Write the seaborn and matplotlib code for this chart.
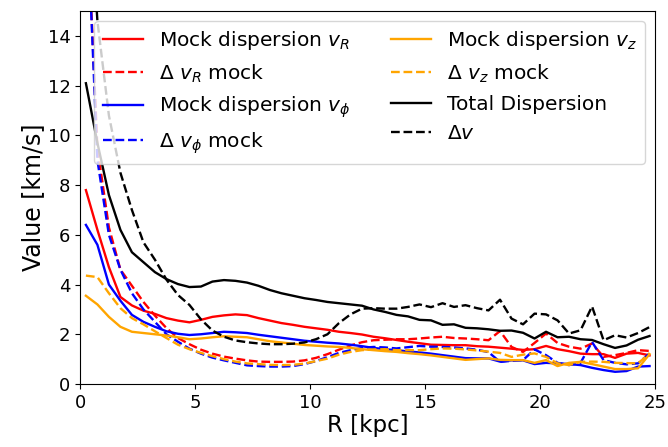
import matplotlib
matplotlib.use('Agg')
import matplotlib.pyplot as plt
import seaborn as sns
import numpy as np

# radial bins [kpc]
R = np.arange(0.25, 25.0, 0.5)

sigma_R = [7.8, 6.2, 4.7, 3.5, 3.16, 2.95, 2.82, 2.65, 2.55, 2.48,
           2.58, 2.7, 2.76, 2.8, 2.77, 2.65, 2.55, 2.45, 2.38, 2.3,
           2.24, 2.18, 2.1, 2.05, 1.99, 1.9, 1.84, 1.77, 1.7, 1.64,
           1.58, 1.57, 1.56, 1.56, 1.52, 1.5, 1.46, 1.42, 1.37, 1.4,
           1.53, 1.4, 1.32, 1.22, 1.2, 1.2, 1.05, 1.22, 1.25, 1.15]
dsigma_R = [20.0, 9.5, 6.3, 4.6, 3.95, 3.3, 2.75, 2.25, 1.85, 1.6,
            1.38, 1.22, 1.1, 1.02, 0.95, 0.9, 0.89, 0.89, 0.9, 0.95,
            1.05, 1.2, 1.38, 1.55, 1.68, 1.76, 1.78, 1.8, 1.8, 1.83,
            1.87, 1.9, 1.85, 1.83, 1.8, 1.76, 2.13, 1.49, 1.29, 1.65,
            2.03, 1.65, 1.5, 1.42, 1.63, 1.09, 1.16, 1.25, 1.36, 1.33]
sigma_phi = [6.4, 5.6, 4.0, 3.35, 2.78, 2.5, 2.3, 2.12, 2.02, 1.97,
             2.0, 2.05, 2.1, 2.08, 2.05, 1.98, 1.92, 1.86, 1.8, 1.74,
             1.7, 1.66, 1.63, 1.58, 1.52, 1.45, 1.4, 1.36, 1.31, 1.27,
             1.22, 1.16, 1.1, 1.04, 1.03, 1.03, 0.9, 0.95, 0.95, 0.8,
             0.85, 0.83, 0.8, 0.76, 0.65, 0.56, 0.49, 0.52, 0.7, 0.72]
dsigma_phi = [20.0, 9.0, 6.0, 4.6, 3.65, 3.0, 2.5, 2.0, 1.7, 1.42,
              1.22, 1.06, 0.95, 0.85, 0.75, 0.72, 0.7, 0.7, 0.72, 0.8,
              0.92, 1.08, 1.25, 1.36, 1.45, 1.49, 1.47, 1.43, 1.48, 1.53,
              1.5, 1.49, 1.47, 1.43, 1.38, 1.28, 0.89, 0.93, 0.96, 1.39,
              1.16, 0.85, 0.76, 0.85, 1.69, 0.96, 0.85, 0.79, 0.83, 1.23]
sigma_z = [3.55, 3.2, 2.7, 2.3, 2.1, 2.05, 2.0, 1.95, 1.88, 1.8,
           1.83, 1.88, 1.92, 1.9, 1.88, 1.8, 1.72, 1.67, 1.62, 1.57,
           1.54, 1.51, 1.49, 1.45, 1.4, 1.36, 1.32, 1.29, 1.24, 1.2,
           1.15, 1.09, 1.03, 0.97, 1.0, 1.03, 0.97, 0.96, 0.96, 0.85,
           0.96, 0.72, 0.85, 0.89, 0.8, 0.7, 0.6, 0.6, 0.63, 1.2]
dsigma_z = [4.36, 4.3, 3.65, 3.05, 2.65, 2.4, 2.12, 1.85, 1.58, 1.4,
            1.25, 1.12, 1.0, 0.9, 0.83, 0.8, 0.77, 0.76, 0.77, 0.82,
            0.92, 1.02, 1.18, 1.29, 1.36, 1.39, 1.4, 1.36, 1.36, 1.36,
            1.4, 1.43, 1.42, 1.39, 1.35, 1.3, 1.25, 1.09, 1.18, 1.23,
            1.09, 0.83, 0.76, 0.89, 0.9, 0.89, 0.85, 0.84, 0.83, 1.23]
sigma_tot = [12.1, 9.7, 7.6, 6.2, 5.3, 4.9, 4.5, 4.22, 4.02, 3.9,
             3.92, 4.12, 4.18, 4.15, 4.08, 3.95, 3.78, 3.65, 3.55, 3.45,
             3.38, 3.3, 3.25, 3.2, 3.15, 3.0, 2.9, 2.78, 2.72, 2.58,
             2.56, 2.38, 2.4, 2.26, 2.24, 2.2, 2.14, 2.15, 2.06, 1.83,
             2.1, 1.88, 1.9, 1.8, 1.77, 1.6, 1.45, 1.55, 1.78, 1.93]
dsigma_tot = [22.0, 14.6, 10.8, 8.5, 7.0, 5.7, 5.0, 4.2, 3.58, 3.18,
              2.6, 2.15, 1.9, 1.75, 1.68, 1.63, 1.6, 1.6, 1.62, 1.67,
              1.8, 2.0, 2.45, 2.8, 3.03, 3.05, 3.03, 3.03, 3.1, 3.2,
              3.09, 3.25, 3.1, 3.17, 3.05, 2.96, 3.39, 2.63, 2.4, 2.83,
              2.8, 2.56, 2.03, 2.16, 3.12, 1.76, 1.96, 1.87, 2.05, 2.29]

series = [
    (sigma_R, r'Mock dispersion $v_R$', 'red', '-'),
    (dsigma_R, r'$\Delta$ $v_R$ mock', 'red', '--'),
    (sigma_phi, r'Mock dispersion $v_\phi$', 'blue', '-'),
    (dsigma_phi, r'$\Delta$ $v_\phi$ mock', 'blue', '--'),
    (sigma_z, r'Mock dispersion $v_z$', 'orange', '-'),
    (dsigma_z, r'$\Delta$ $v_z$ mock', 'orange', '--'),
    (sigma_tot, 'Total Dispersion', 'black', '-'),
    (dsigma_tot, r'$\Delta v$', 'black', '--'),
]

fig, ax = plt.subplots(figsize=(6.68, 4.47), dpi=100)
fig.subplots_adjust(left=0.12, right=0.981, bottom=0.141, top=0.975)

for vals, label, color, ls in series:
    sns.lineplot(x=R, y=vals, ax=ax, color=color, linestyle=ls,
                 linewidth=1.7, label=label)

ax.set_xlim(0, 25)
ax.set_ylim(0, 15)
ax.set_xticks([0, 5, 10, 15, 20, 25])
ax.set_yticks([0, 2, 4, 6, 8, 10, 12, 14])
ax.tick_params(labelsize=13)
ax.set_xlabel('R [kpc]', fontsize=16.5, labelpad=2)
ax.set_ylabel('Value [km/s]', fontsize=17, labelpad=2)
ax.legend(loc='upper right', ncol=2, fontsize=14.5, framealpha=0.8)

plt.savefig('out.png', dpi=100)
plt.close()
